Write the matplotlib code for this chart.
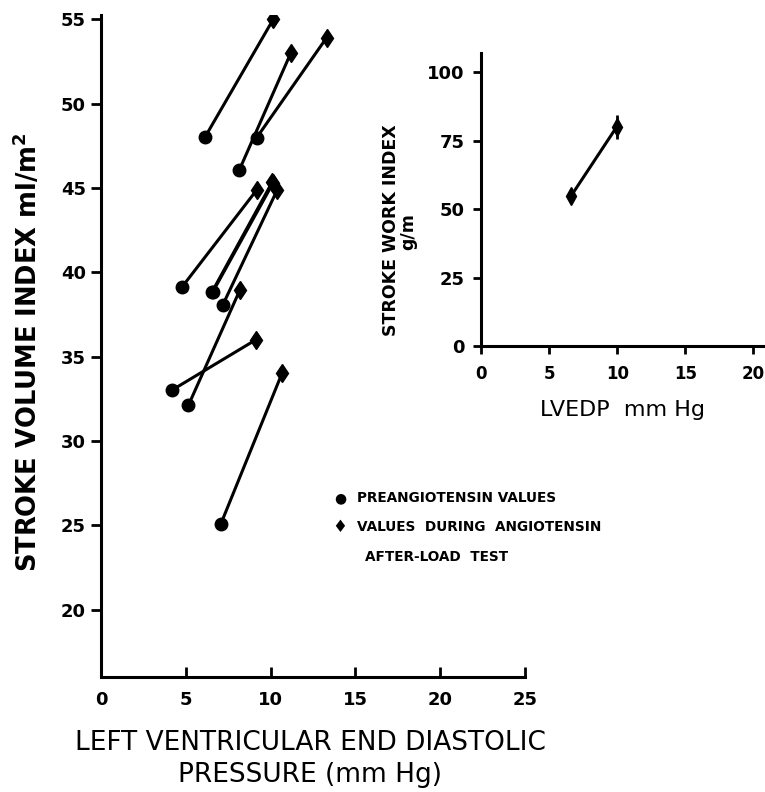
import matplotlib
matplotlib.use("Agg")
import matplotlib.pyplot as plt

plt.rcParams['font.family'] = ['DejaVu Sans']

# Main panel: each subject, preangiotensin -> during angiotensin
pre_x = [6.15, 8.16, 9.18, 4.76, 6.53, 6.6, 7.17, 5.15, 4.17, 7.06]
pre_y = [48.04, 46.07, 47.98, 39.1, 38.8, 38.85, 38.04, 32.1, 33.0, 25.06]
dur_x = [10.16, 11.18, 13.3, 9.2, 10.1, 10.15, 10.4, 8.2, 9.14, 10.67]
dur_y = [55.0, 52.97, 53.9, 44.9, 45.35, 45.3, 44.9, 38.97, 36.0, 34.0]

main_xticks = [0, 5, 10, 15, 20, 25]
main_xticklabels = ['0', '5', '10', '15', '20', '25']
main_yticks = [20, 25, 30, 35, 40, 45, 50, 55]

# Inset: mean stroke work index
inset_x = [6.6, 9.96]
inset_y = [54.7, 80.0]
inset_err = [1.5, 4.5]
inset_xticks = [0, 5, 10, 15, 20]
inset_yticks = [0, 25, 50, 75, 100]

fig = plt.figure(figsize=(7.65, 7.92), dpi=100)

ax = fig.add_axes([101/765, 1-677/792, (525-101)/765, (677-15)/792])
for px, py, dx, dy in zip(pre_x, pre_y, dur_x, dur_y):
    ax.plot([px, dx], [py, dy], color='black', lw=2.2, solid_capstyle='round', zorder=2)
ax.plot(pre_x, pre_y, 'o', color='black', ms=9, zorder=3, ls='none')
ax.plot(dur_x, dur_y, 'd', color='black', ms=9.5, zorder=3, ls='none')

ax.set_xlim(0, 25)
ax.set_ylim(16.0, 55.25)
for s in ['top', 'right']:
    ax.spines[s].set_visible(False)
for s in ['left', 'bottom']:
    ax.spines[s].set_linewidth(2.2)
ax.set_xticks(main_xticks)
ax.set_xticklabels(main_xticklabels, fontsize=13, fontweight='bold')
ax.set_yticks(main_yticks)
ax.set_yticklabels([str(v) for v in main_yticks], fontsize=13, fontweight='bold')
ax.tick_params(axis='x', direction='in', length=7, width=2, pad=10)
ax.tick_params(axis='y', direction='out', length=7, width=2, pad=4)

fig.text(28/765, 1-352/792, 'STROKE VOLUME INDEX ml/m$^\\mathbf{2}$', fontsize=18.5,
         fontweight='bold', rotation=90, ha='center', va='center')
fig.text(310/765, 1-743/792, 'LEFT VENTRICULAR END DIASTOLIC', fontsize=19,
         ha='center', va='center')
fig.text(310/765, 1-775/792, 'PRESSURE (mm Hg)', fontsize=19, ha='center', va='center')

# Legend
fig.text(340/765, 1-498/792, '●', fontsize=10, ha='center', va='center')
fig.text(340/765, 1-527/792, '♦', fontsize=12, ha='center', va='center')
fig.text(357/765, 1-498/792, 'PREANGIOTENSIN VALUES', fontsize=9.8, fontweight='bold',
         ha='left', va='center')
fig.text(357/765, 1-527/792, 'VALUES  DURING  ANGIOTENSIN', fontsize=9.8, fontweight='bold',
         ha='left', va='center')
fig.text(437/765, 1-557/792, 'AFTER-LOAD  TEST', fontsize=9.8, fontweight='bold',
         ha='center', va='center')

# Inset
ai = fig.add_axes([481/765, 1-346/792, (765-481)/765, (346-53)/792])
ai.errorbar(inset_x, inset_y, yerr=inset_err, color='black', lw=2.2, marker='d', ms=9,
            elinewidth=2, capsize=0)
ai.set_xlim(0, 20.85)
ai.set_ylim(0, 107)
for s in ['top', 'right']:
    ai.spines[s].set_visible(False)
for s in ['left', 'bottom']:
    ai.spines[s].set_linewidth(2.2)
ai.set_xticks(inset_xticks)
ai.set_xticklabels([str(v) for v in inset_xticks], fontsize=12, fontweight='bold')
ai.set_yticks(inset_yticks)
ai.set_yticklabels([str(v) for v in inset_yticks], fontsize=13, fontweight='bold')
ai.tick_params(axis='both', direction='out', length=6, width=2, pad=6)
ai.tick_params(axis='x', pad=8)
ai.set_xlabel('LVEDP  mm Hg', fontsize=16, labelpad=12)
fig.text(391/765, 1-230/792, 'STROKE WORK INDEX', fontsize=12.5, fontweight='bold',
         rotation=90, ha='center', va='center')
fig.text(408/765, 1-232/792, 'g/m', fontsize=12.5, fontweight='bold',
         rotation=90, ha='center', va='center')

fig.savefig('out.png', dpi=100)
